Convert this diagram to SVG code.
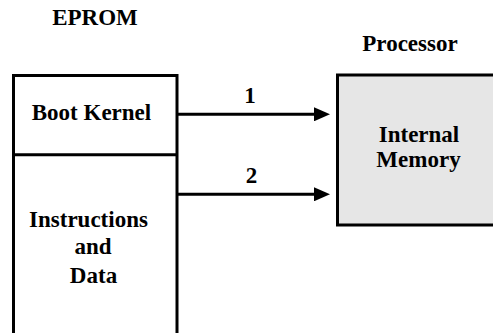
<svg xmlns="http://www.w3.org/2000/svg" width="493" height="333" viewBox="0 0 493 333">
<style>
text{font-family:'Liberation Serif','DejaVu Serif',serif;font-weight:700;font-size:23px;fill:#000;text-anchor:middle}
.box{stroke:#000;stroke-width:3;fill:#fff}
.proc{stroke:#000;stroke-width:3;fill:#e6e6e6}
.conn{stroke:#000;stroke-width:3;fill:none}
</style>
<defs>
<marker id="ah" markerUnits="userSpaceOnUse" markerWidth="16" markerHeight="14" refX="0" refY="7" orient="auto" viewBox="0 0 16 14">
<polygon points="0,0 16,7 0,14" fill="#000"/>
</marker>
</defs>
<rect width="493" height="333" fill="#fff"/>
<g id="eprom-label"><text x="95" y="25">EPROM</text></g>
<g id="processor-label"><text x="410" y="51">Processor</text></g>
<g id="eprom">
<rect class="box" x="13.5" y="75.5" width="163.5" height="300"/>
<line class="conn" x1="13.5" y1="154.7" x2="177" y2="154.7"/>
</g>
<g id="boot-kernel"><text x="91.5" y="120">Boot Kernel</text></g>
<g id="instructions-data">
<text x="88.5" y="227">Instructions</text>
<text x="93" y="254">and</text>
<text x="93.5" y="283">Data</text>
</g>
<g id="internal-memory">
<rect class="proc" x="337.5" y="75" width="200" height="150"/>
<text x="419" y="142">Internal</text>
<text x="418.5" y="167">Memory</text>
</g>
<g id="connectors">
<line class="conn" x1="178" y1="114.3" x2="314" y2="114.3" marker-end="url(#ah)"/>
<line class="conn" x1="178" y1="194.3" x2="314" y2="194.3" marker-end="url(#ah)"/>
<text x="250" y="103">1</text>
<text x="251.5" y="183">2</text>
</g>
</svg>
